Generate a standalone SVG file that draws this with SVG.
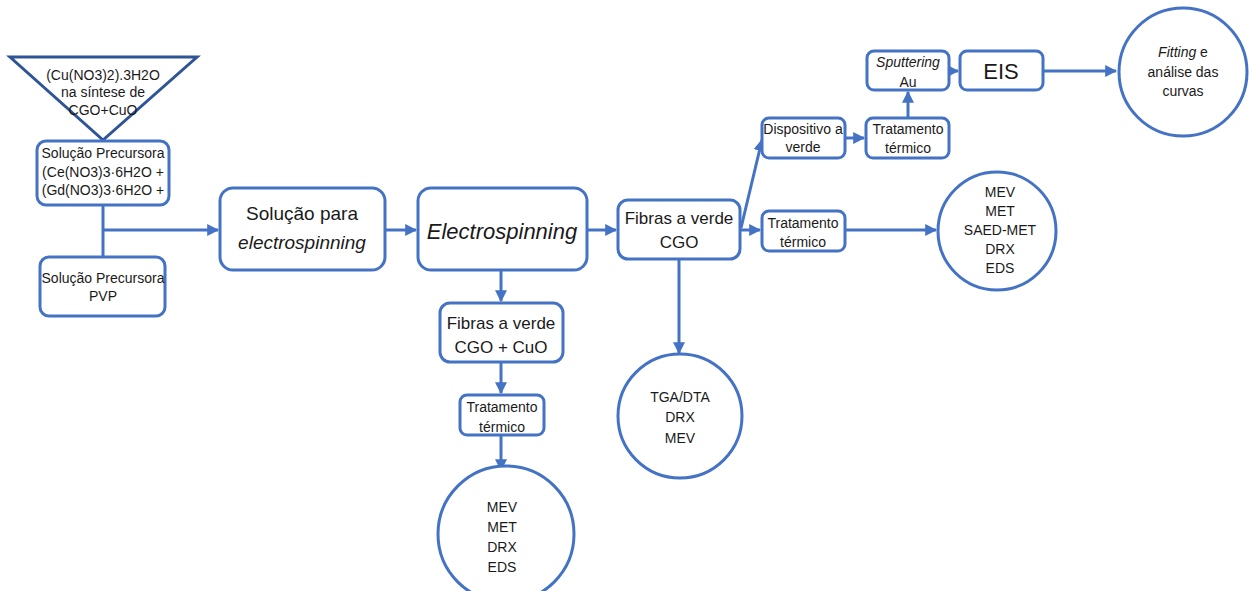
<svg xmlns="http://www.w3.org/2000/svg" width="1249" height="591" viewBox="0 0 1249 591">
<style>
.n{fill:#fff;stroke:#4472C4;stroke-width:3}
.t{font-family:"Liberation Sans",Arial,sans-serif;fill:#1a1a1a;text-anchor:middle;dominant-baseline:central}
.s{font-size:14px}
.m{font-size:14px}
.l{font-size:19px}
.c{fill:none;stroke:#4472C4;stroke-width:3}
</style>
<defs>
<marker id="a" viewBox="0 0 10 10" refX="9" refY="5" markerWidth="4" markerHeight="4" orient="auto" markerUnits="strokeWidth">
<path d="M0,0 L10,5 L0,10 z" fill="#4472C4"/>
</marker>
</defs>
<rect width="1249" height="591" fill="#fff"/>
<g id="connectors">
<path class="c" d="M103,205 V257"/>
<path class="c" d="M103,230 H218" marker-end="url(#a)"/>
<path class="c" d="M385,230 H416" marker-end="url(#a)"/>
<path class="c" d="M587,230 H616" marker-end="url(#a)"/>
<path class="c" d="M501,270 V301" marker-end="url(#a)"/>
<path class="c" d="M501,362 V393" marker-end="url(#a)"/>
<path class="c" d="M501,435 V470" marker-end="url(#a)"/>
<path class="c" d="M679,259 V353" marker-end="url(#a)"/>
<path class="c" d="M740,230 H760" marker-end="url(#a)"/>
<path class="c" d="M741,228 L762,140" marker-end="url(#a)"/>
<path class="c" d="M845,138 H864" marker-end="url(#a)"/>
<path class="c" d="M908,118 V92" marker-end="url(#a)"/>
<path class="c" d="M949,71 H958" marker-end="url(#a)"/>
<path class="c" d="M1043,71 H1116" marker-end="url(#a)"/>
<path class="c" d="M845,230 H936" marker-end="url(#a)"/>
</g>
<g id="n_tri">
<path d="M10,57 H197 L103,140 Z" fill="#fff" stroke="#2F5597" stroke-width="3"/>
<text class="t m" x="103" y="75">(Cu(NO3)2).3H2O</text>
<text class="t m" x="103" y="92">na síntese de</text>
<text class="t m" x="103" y="110">CGO+CuO</text>
</g>
<g id="n_prec">
<rect class="n" x="37" y="141" width="132" height="64" rx="9"/>
<text class="t s" x="103" y="153">Solução Precursora</text>
<text class="t s" x="103" y="172">(Ce(NO3)3·6H2O +</text>
<text class="t s" x="103" y="190">(Gd(NO3)3·6H2O +</text>
</g>
<g id="n_pvp">
<rect class="n" x="40" y="257" width="125" height="59" rx="9"/>
<text class="t s" x="103" y="278">Solução Precursora</text>
<text class="t s" x="103" y="296">PVP</text>
</g>
<g id="n_sol">
<rect class="n" x="220" y="188" width="165" height="82" rx="13"/>
<text class="t l" x="302" y="213">Solução para</text>
<text class="t l" x="302" y="242" font-style="italic">electrospinning</text>
</g>
<g id="n_elec">
<rect class="n" x="418" y="188" width="169" height="82" rx="13"/>
<text class="t" x="502" y="231" font-size="22" font-style="italic">Electrospinning</text>
</g>
<g id="n_fcu">
<rect class="n" x="440" y="303" width="123" height="59" rx="10"/>
<text class="t" x="501" y="323" font-size="17">Fibras a verde</text>
<text class="t" x="501" y="347" font-size="17">CGO + CuO</text>
</g>
<g id="n_tt1">
<rect class="n" x="460" y="395" width="84" height="40" rx="7"/>
<text class="t s" x="502" y="407">Tratamento</text>
<text class="t s" x="502" y="427">térmico</text>
</g>
<g id="n_c1">
<circle class="n" cx="506" cy="534" r="68"/>
<text class="t m" x="502" y="507">MEV</text>
<text class="t m" x="502" y="527">MET</text>
<text class="t m" x="502" y="547">DRX</text>
<text class="t m" x="502" y="567">EDS</text>
</g>
<g id="n_fcgo">
<rect class="n" x="618" y="200" width="122" height="59" rx="10"/>
<text class="t" x="679" y="218" font-size="17">Fibras a verde</text>
<text class="t" x="679" y="242" font-size="17">CGO</text>
</g>
<g id="n_c2">
<circle class="n" cx="680" cy="416" r="62"/>
<text class="t m" x="680" y="397">TGA/DTA</text>
<text class="t m" x="680" y="417">DRX</text>
<text class="t m" x="680" y="438">MEV</text>
</g>
<g id="n_disp">
<rect class="n" x="762" y="118" width="83" height="40" rx="7"/>
<text class="t s" x="803" y="129">Dispositivo a</text>
<text class="t s" x="803" y="147">verde</text>
</g>
<g id="n_tt2">
<rect class="n" x="866" y="118" width="83" height="40" rx="7"/>
<text class="t s" x="908" y="129">Tratamento</text>
<text class="t s" x="908" y="148">térmico</text>
</g>
<g id="n_tt3">
<rect class="n" x="762" y="211" width="83" height="40" rx="7"/>
<text class="t s" x="803" y="223">Tratamento</text>
<text class="t s" x="803" y="242">térmico</text>
</g>
<g id="n_sput">
<rect class="n" x="867" y="51" width="82" height="39" rx="7"/>
<text class="t s" x="908" y="62" font-style="italic">Sputtering</text>
<text class="t s" x="908" y="82">Au</text>
</g>
<g id="n_eis">
<rect class="n" x="960" y="51" width="83" height="39" rx="7"/>
<text class="t" x="1001" y="71" font-size="22">EIS</text>
</g>
<g id="n_fit">
<circle class="n" cx="1183" cy="72" r="64"/>
<text class="t m" x="1183" y="52"><tspan font-style="italic">Fitting</tspan> e</text>
<text class="t m" x="1183" y="72">análise das</text>
<text class="t m" x="1183" y="91">curvas</text>
</g>
<g id="n_c3">
<circle class="n" cx="997" cy="231" r="59"/>
<text class="t m" x="1000" y="192">MEV</text>
<text class="t m" x="1000" y="211">MET</text>
<text class="t m" x="1000" y="230">SAED-MET</text>
<text class="t m" x="1000" y="249">DRX</text>
<text class="t m" x="1000" y="268">EDS</text>
</g>
</svg>
